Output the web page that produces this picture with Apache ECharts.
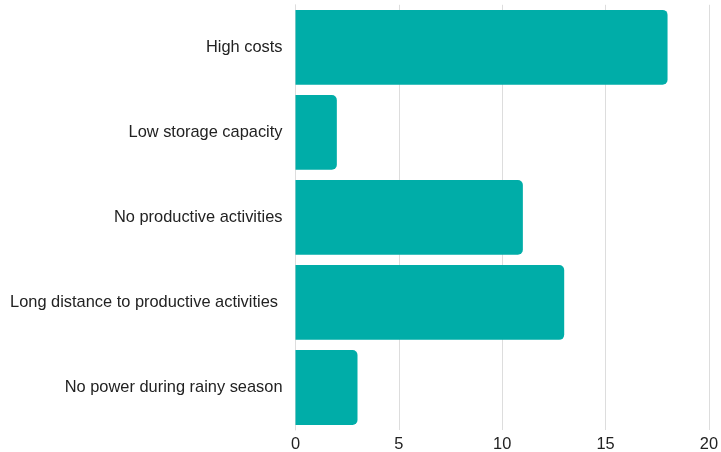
<!DOCTYPE html>
<html><head><meta charset="utf-8">
<script src="https://cdn.jsdelivr.net/npm/echarts@6/dist/echarts.min.js"></script>
<style>html,body{margin:0;padding:0;background:#fff}#c{width:721px;height:452px}</style>
</head><body><div id="c"></div>
<script>
const categories = ["High costs","Low storage capacity","No productive activities","Long distance to productive activities ","No power during rainy season"];
const values = [18, 2, 11, 13, 3];
const xTicks = [0, 5, 10, 15, 20];

const FONT = '"Liberation Sans", Arial, sans-serif';
const chart = echarts.init(document.getElementById('c'), null, {renderer:'canvas', width:721, height:452});
chart.setOption({
  animation:false,
  grid:{left:295.5, right:9.3, top:4.8, bottom:20.2, containLabel:false},
  xAxis:{type:'value', min:xTicks[0], max:xTicks[xTicks.length-1], interval:5,
    axisLine:{show:false}, axisTick:{show:false},
    axisLabel:{fontFamily:FONT, fontSize:16.4, color:'#222', margin:6},
    splitLine:{lineStyle:{color:'#dddddd', width:1}}},
  yAxis:{type:'category', data:categories, inverse:true,
    axisLine:{show:true, lineStyle:{color:'#dddddd'}}, axisTick:{show:false},
    axisLabel:{fontFamily:FONT, fontSize:16.4, color:'#222', margin:13}},
  series:[{type:'bar', data:values, barCategoryGap:'12%',
    itemStyle:{color:'#00ADA8', borderRadius:[0,5,5,0]}}]
});
</script></body></html>
